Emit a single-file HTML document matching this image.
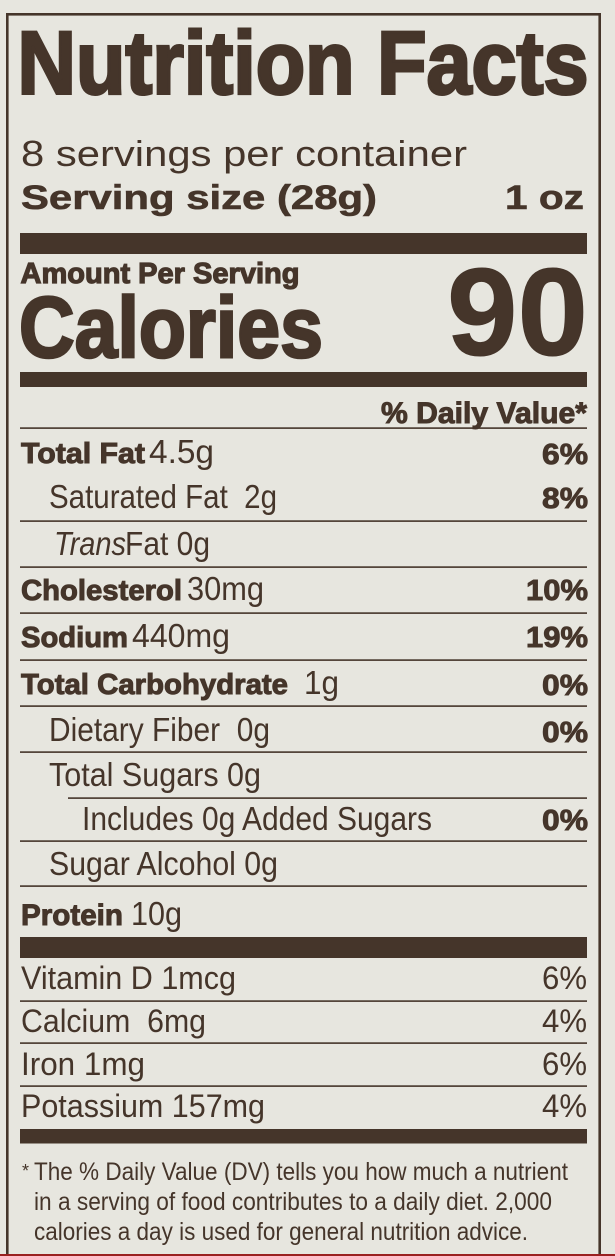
<!DOCTYPE html>
<html>
<head>
<meta charset="utf-8">
<style>
  html, body { margin: 0; padding: 0; background: #e7e6df; }
  body { width: 615px; height: 1256px; overflow: hidden; }
  svg { display: block; }
</style>
</head>
<body>
<svg width="615" height="1256" viewBox="0 0 615 1256" xmlns="http://www.w3.org/2000/svg" font-family="'Liberation Sans', Arial, sans-serif" fill="#45352a">
  <rect x="0" y="0" width="615" height="1256" fill="#e7e6df"/>
  <!-- frame -->
  <rect x="6" y="13" width="595" height="2.6" fill="#45352a"/>
  <rect x="6" y="13" width="2.6" height="1243" fill="#45352a"/>
  <rect x="598.4" y="13" width="2.6" height="1243" fill="#45352a"/>
  <rect x="0" y="1254" width="615" height="2" fill="#9a2020"/>

  <!-- Title -->
  <text x="17.5" y="93.5" font-size="89" font-weight="bold" stroke="#45352a" stroke-width="3" textLength="571" lengthAdjust="spacingAndGlyphs">Nutrition Facts</text>

  <text x="21" y="166" font-size="36" textLength="446" lengthAdjust="spacingAndGlyphs">8 servings per container</text>
  <text x="21" y="209" font-size="34.5" font-weight="bold" stroke="#45352a" stroke-width="0.6" textLength="356" lengthAdjust="spacingAndGlyphs">Serving size (28g)</text>
  <text x="505" y="209" font-size="34.5" font-weight="bold" stroke="#45352a" stroke-width="0.6" textLength="79" lengthAdjust="spacingAndGlyphs">1 oz</text>

  <rect x="20" y="233" width="567" height="21"/>

  <text x="20.5" y="283" font-size="29" font-weight="bold" stroke="#45352a" stroke-width="1.2" textLength="279" lengthAdjust="spacingAndGlyphs">Amount Per Serving</text>
  <text x="19" y="357" font-size="86" font-weight="bold" stroke="#45352a" stroke-width="2.6" textLength="304" lengthAdjust="spacingAndGlyphs">Calories</text>
  <text x="447" y="355" font-size="124" font-weight="bold" stroke="#45352a" stroke-width="1" textLength="141" lengthAdjust="spacingAndGlyphs">90</text>

  <rect x="20" y="372" width="567" height="15"/>

  <text x="381" y="423" font-size="30" font-weight="bold" stroke="#45352a" stroke-width="1" textLength="206" lengthAdjust="spacingAndGlyphs">% Daily Value*</text>
  <rect x="20" y="427.3" width="567" height="1.6"/>

  <!-- Total Fat -->
  <text x="21" y="463" font-size="29" font-weight="bold" stroke="#45352a" stroke-width="1" textLength="124" lengthAdjust="spacingAndGlyphs">Total Fat</text>
  <text x="149" y="463" font-size="33" textLength="65" lengthAdjust="spacingAndGlyphs">4.5g</text>
  <text x="542" y="464" font-size="29" font-weight="bold" stroke="#45352a" stroke-width="0.9" textLength="46" lengthAdjust="spacingAndGlyphs">6%</text>

  <!-- Saturated Fat -->
  <text x="49" y="508" font-size="33" textLength="228" lengthAdjust="spacingAndGlyphs">Saturated Fat&#160;&#160;2g</text>
  <text x="542" y="508" font-size="29" font-weight="bold" stroke="#45352a" stroke-width="0.9" textLength="46" lengthAdjust="spacingAndGlyphs">8%</text>
  <rect x="20" y="520.3" width="567" height="1.6"/>

  <!-- Trans Fat -->
  <text x="54" y="555" font-size="33" font-style="italic" textLength="72" lengthAdjust="spacingAndGlyphs">Trans</text>
  <text x="125" y="555" font-size="33" textLength="85" lengthAdjust="spacingAndGlyphs">Fat 0g</text>
  <rect x="20" y="566.3" width="567" height="1.6"/>

  <!-- Cholesterol -->
  <text x="21" y="600" font-size="29" font-weight="bold" stroke="#45352a" stroke-width="1" textLength="161" lengthAdjust="spacingAndGlyphs">Cholesterol</text>
  <text x="187" y="600" font-size="33" textLength="77" lengthAdjust="spacingAndGlyphs">30mg</text>
  <text x="526" y="600" font-size="29" font-weight="bold" stroke="#45352a" stroke-width="0.9" textLength="62" lengthAdjust="spacingAndGlyphs">10%</text>
  <rect x="20" y="612.3" width="567" height="1.6"/>

  <!-- Sodium -->
  <text x="21" y="647" font-size="29" font-weight="bold" stroke="#45352a" stroke-width="1" textLength="107" lengthAdjust="spacingAndGlyphs">Sodium</text>
  <text x="132" y="647" font-size="33" textLength="98" lengthAdjust="spacingAndGlyphs">440mg</text>
  <text x="526" y="647" font-size="29" font-weight="bold" stroke="#45352a" stroke-width="0.9" textLength="62" lengthAdjust="spacingAndGlyphs">19%</text>
  <rect x="20" y="659.3" width="567" height="1.6"/>

  <!-- Total Carbohydrate -->
  <text x="21" y="694" font-size="29" font-weight="bold" stroke="#45352a" stroke-width="1" textLength="267" lengthAdjust="spacingAndGlyphs">Total Carbohydrate</text>
  <text x="304" y="694" font-size="33" textLength="35" lengthAdjust="spacingAndGlyphs">1g</text>
  <text x="542" y="695" font-size="29" font-weight="bold" stroke="#45352a" stroke-width="0.9" textLength="46" lengthAdjust="spacingAndGlyphs">0%</text>
  <rect x="20" y="705.3" width="567" height="1.6"/>

  <!-- Dietary Fiber -->
  <text x="49" y="741" font-size="33" textLength="221" lengthAdjust="spacingAndGlyphs">Dietary Fiber&#160;&#160;0g</text>
  <text x="542" y="742" font-size="29" font-weight="bold" stroke="#45352a" stroke-width="0.9" textLength="46" lengthAdjust="spacingAndGlyphs">0%</text>
  <rect x="20" y="751.3" width="567" height="1.6"/>

  <!-- Total Sugars -->
  <text x="49" y="786" font-size="33" textLength="212" lengthAdjust="spacingAndGlyphs">Total Sugars 0g</text>
  <rect x="68" y="797.3" width="519" height="1.6"/>

  <!-- Includes -->
  <text x="82" y="830" font-size="33" textLength="350" lengthAdjust="spacingAndGlyphs">Includes 0g Added Sugars</text>
  <text x="542" y="830" font-size="29" font-weight="bold" stroke="#45352a" stroke-width="0.9" textLength="46" lengthAdjust="spacingAndGlyphs">0%</text>
  <rect x="20" y="840.3" width="567" height="1.6"/>

  <!-- Sugar Alcohol -->
  <text x="49" y="875" font-size="33" textLength="229" lengthAdjust="spacingAndGlyphs">Sugar Alcohol 0g</text>
  <rect x="20" y="885.3" width="567" height="1.6"/>

  <!-- Protein -->
  <text x="21" y="925" font-size="30" font-weight="bold" stroke="#45352a" stroke-width="1" textLength="102" lengthAdjust="spacingAndGlyphs">Protein</text>
  <text x="131" y="925" font-size="33" textLength="51" lengthAdjust="spacingAndGlyphs">10g</text>

  <rect x="20" y="937" width="567" height="21"/>

  <!-- Vitamins -->
  <text x="21" y="989" font-size="32" textLength="215" lengthAdjust="spacingAndGlyphs">Vitamin D 1mcg</text>
  <text x="542" y="989" font-size="32" textLength="45" lengthAdjust="spacingAndGlyphs">6%</text>
  <rect x="20" y="1000.3" width="567" height="1.6"/>

  <text x="21" y="1032" font-size="32" textLength="185" lengthAdjust="spacingAndGlyphs">Calcium&#160;&#160;6mg</text>
  <text x="542" y="1032" font-size="32" textLength="45" lengthAdjust="spacingAndGlyphs">4%</text>
  <rect x="20" y="1042.3" width="567" height="1.6"/>

  <text x="21" y="1075" font-size="32" textLength="124" lengthAdjust="spacingAndGlyphs">Iron 1mg</text>
  <text x="542" y="1075" font-size="32" textLength="45" lengthAdjust="spacingAndGlyphs">6%</text>
  <rect x="20" y="1085.3" width="567" height="1.6"/>

  <text x="21" y="1117" font-size="32" textLength="244" lengthAdjust="spacingAndGlyphs">Potassium 157mg</text>
  <text x="542" y="1117" font-size="32" textLength="45" lengthAdjust="spacingAndGlyphs">4%</text>

  <rect x="20" y="1129" width="567" height="14.5"/>

  <!-- Footnote -->
  <text x="22" y="1177" font-size="18">*</text>
  <text x="34" y="1180" font-size="25" textLength="534" lengthAdjust="spacingAndGlyphs">The % Daily Value (DV) tells you how much a nutrient</text>
  <text x="34" y="1210" font-size="25" textLength="518" lengthAdjust="spacingAndGlyphs">in a serving of food contributes to a daily diet. 2,000</text>
  <text x="34" y="1240" font-size="25" textLength="494" lengthAdjust="spacingAndGlyphs">calories a day is used for general nutrition advice.</text>
</svg>
</body>
</html>
